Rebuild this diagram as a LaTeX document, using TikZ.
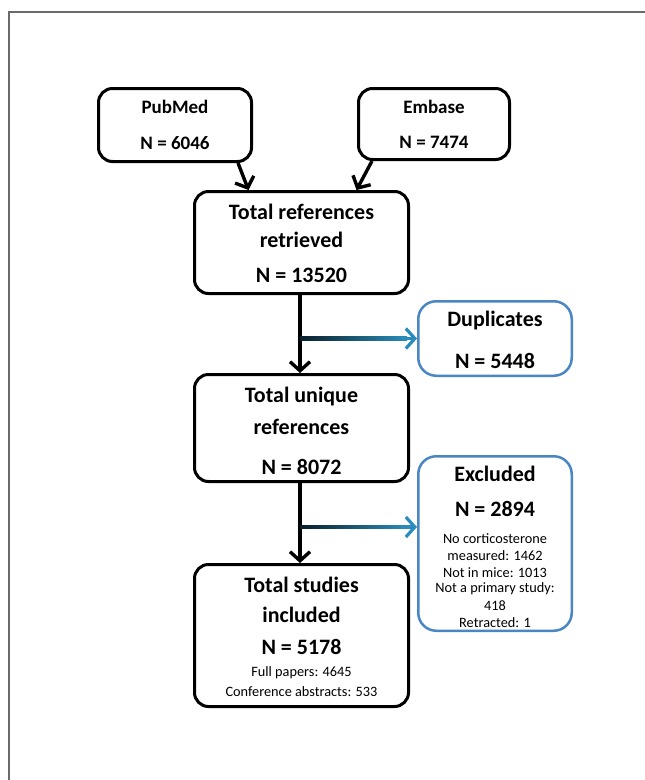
\documentclass[tikz,border=0pt]{standalone}
\usepackage{fontspec}
\setmainfont{Carlito}
\usetikzlibrary{arrows.meta,calc}
\definecolor{boxblue}{HTML}{4A86C4}
\definecolor{arrblue}{HTML}{2A8CBA}
\definecolor{framegray}{HTML}{6A6A6A}
\pgfdeclarehorizontalshading{bgrad}{100bp}{color(0bp)=(black); color(10bp)=(black); color(75bp)=(arrblue); color(100bp)=(arrblue)}
\begin{document}
\begin{tikzpicture}[x=1pt,y=-1pt,
 box/.style={draw=black, line width=3pt, rounded corners=14pt, inner sep=0pt},
 bbox/.style={draw=boxblue, line width=2.5pt, rounded corners=18pt, inner sep=0pt},
 hd/.style={font=\fontsize{22}{26}\selectfont\bfseries, inner sep=0pt},
 sm/.style={font=\fontsize{19}{22}\selectfont\bfseries, inner sep=0pt},
 tx/.style={font=\fontsize{14.3}{16}\selectfont, inner sep=0pt},
 arr/.style={line width=3.4pt, -{Straight Barb[length=9pt,width=20pt]}},
 barr/.style={arrblue, line width=3.2pt, -{Straight Barb[length=9pt,width=20pt]}},
]
\useasboundingbox (0,0) rectangle (645,780);
\draw[framegray, line width=2pt] (9,780) -- (9,12) -- (645,12);

% boxes
\node[box, minimum width=153pt, minimum height=73pt] (pub) at (175,125) {};
\node[box, minimum width=151pt, minimum height=71pt] (emb) at (434,124) {};
\node[box, minimum width=214pt, minimum height=102pt] (tr) at (301.5,242.5) {};
\node[bbox, minimum width=153.5pt, minimum height=74.5pt] (dup) at (495,338.5) {};
\node[box, minimum width=214pt, minimum height=107pt] (tu) at (301.5,428) {};
\node[bbox, minimum width=153.5pt, minimum height=174.5pt] (exc) at (495,543.5) {};
\node[box, minimum width=214pt, minimum height=142pt] (ts) at (301.5,635.5) {};

% texts
\node[sm] (pub1) at (175,107) {PubMed};
\node[sm] (pub2) at (175,143) {N = 6046};
\node[sm] (emb1) at (434,107) {Embase};
\node[sm] (emb2) at (434,142) {N = 7474};
\node[hd] (tr1) at (301.5,212) {Total references};
\node[hd] (tr2) at (301.5,240) {retrieved};
\node[hd] (tr3) at (301.5,275) {N = 13520};
\node[hd] (dup1) at (495,321) {Duplicates};
\node[hd] (dup2) at (495,361) {N = 5448};
\node[hd] (tu1) at (301.5,397) {Total unique};
\node[hd] (tu2) at (301.5,427) {references};
\node[hd] (tu3) at (301.5,467) {N = 8072};
\node[hd] (exc1) at (495,474) {Excluded};
\node[hd] (exc2) at (495,509) {N = 2894};
\node[tx] (exc3) at (495,539) {No corticosterone};
\node[tx] (exc4) at (495,556) {measured: 1462};
\node[tx] (exc5) at (495,573) {Not in mice: 1013};
\node[tx] (exc6) at (495,589) {Not a primary study:};
\node[tx] (exc7) at (495,606) {418};
\node[tx] (exc8) at (495,623) {Retracted: 1};
\node[hd] (ts1) at (301.5,585) {Total studies};
\node[hd] (ts2) at (301.5,615) {included};
\node[hd] (ts3) at (301.5,647) {N = 5178};
\node[tx] (ts4) at (301.5,673) {Full papers: 4645};
\node[tx] (ts5) at (301.5,692) {Conference abstracts: 533};

% connectors
\draw[arr] ([xshift=-15pt]pub.south east) -- ([xshift=-53pt]tr.north);
\draw[arr] ([xshift=15pt]emb.south west) -- ([xshift=55pt]tr.north);
\draw[arr] ([xshift=-1.5pt]tr.south) -- ([xshift=-1.5pt]tu.north);
\draw[arr] ([xshift=-1.5pt]tu.south) -- ([xshift=-1.5pt]ts.north);

\coordinate (j1) at ([xshift=-1.5pt]tr.south |- dup.west);
\coordinate (e1) at ([xshift=-10pt]dup.west);
\shade[shading=bgrad] ($(j1)+(0,-1.6)$) rectangle ($(e1)+(0,1.6)$);
\draw[barr] ([xshift=-16pt]dup.west) -- (dup.west);

\coordinate (k2) at ([yshift=16.5pt]exc.west);
\coordinate (j2) at ([xshift=-1.5pt]tu.south |- k2);
\coordinate (e2) at ([xshift=-10pt]k2);
\shade[shading=bgrad] ($(j2)+(0,-1.6)$) rectangle ($(e2)+(0,1.6)$);
\draw[barr] ([xshift=-16pt]k2) -- (k2);
\end{tikzpicture}
\end{document}
